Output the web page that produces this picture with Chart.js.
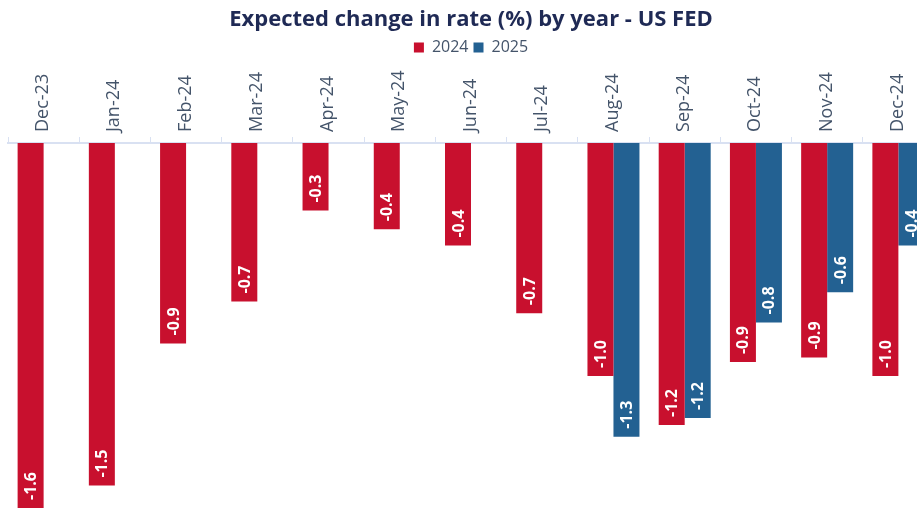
<!DOCTYPE html>
<html>
<head>
<meta charset="utf-8">
<script src="https://cdn.jsdelivr.net/npm/chart.js@4/dist/chart.umd.min.js"></script>
<style>
  html, body { margin:0; padding:0; width:917px; height:508px; overflow:hidden; background:#ffffff; }
  #wrap { position:absolute; left:0; top:0; width:940px; height:508px; }
</style>
</head>
<body>
<div id="wrap"><canvas id="c" width="940" height="508"></canvas></div>
<script>
const categories = ['Dec-23','Jan-24','Feb-24','Mar-24','Apr-24','May-24','Jun-24','Jul-24','Aug-24','Sep-24','Oct-24','Nov-24','Dec-24'];
const series2024 = [-1.58, -1.47, -0.86, -0.68, -0.29, -0.37, -0.44, -0.73, -1.00, -1.21, -0.94, -0.92, -1.00];
const series2025 = [null, null, null, null, null, null, null, null, -1.26, -1.18, -0.77, -0.64, -0.44];
const seriesNames = ['2024', '2025'];
const titleText = 'Expected change in rate (%) by year - US FED';

const RED = '#C8102E';
const BLUE = '#236192';
const FONT = "'Open Sans', 'DejaVu Sans', sans-serif";

const barLabels = {
  id: 'barLabels',
  afterDatasetsDraw(chart) {
    const ctx = chart.ctx;
    const area = chart.chartArea;
    ctx.save();
    ctx.font = 'bold 16px ' + FONT;
    ctx.fillStyle = '#ffffff';
    ctx.textAlign = 'left';
    ctx.textBaseline = 'middle';
    chart.data.datasets.forEach((ds, di) => {
      const meta = chart.getDatasetMeta(di);
      meta.data.forEach((el, i) => {
        const v = ds.data[i];
        if (v === null || v === undefined) return;
        const yEnd = Math.min(el.y, area.bottom);
        ctx.save();
        ctx.translate(el.x, yEnd - 8);
        ctx.rotate(-Math.PI / 2);
        ctx.fillText(v.toFixed(1), 0, 1);
        ctx.restore();
      });
    });
    ctx.restore();
  }
};

new Chart(document.getElementById('c'), {
  type: 'bar',
  data: {
    labels: categories,
    datasets: [
      { label: seriesNames[0], data: series2024, backgroundColor: RED, borderWidth: 0 },
      { label: seriesNames[1], data: series2025, backgroundColor: BLUE, borderWidth: 0 }
    ]
  },
  options: {
    responsive: false,
    animation: false,
    layout: { padding: { left: 8, right: 6, top: 0, bottom: 0 } },
    datasets: { bar: { categoryPercentage: 0.73, barPercentage: 1.0 } },
    plugins: {
      title: {
        display: true,
        text: titleText,
        color: '#1F2A55',
        font: { family: FONT, size: 22, weight: 'bold' },
        padding: { top: 7, bottom: 1 }
      },
      legend: {
        display: true,
        position: 'top',
        labels: {
          boxWidth: 10, boxHeight: 10,
          color: '#44546A',
          font: { family: FONT, size: 16 },
          padding: 5
        }
      },
      tooltip: { enabled: false }
    },
    scales: {
      x: {
        position: 'top',
        offset: true,
        grid: { display: true, drawOnChartArea: false, color: '#D9E1F2', tickLength: 6, offset: true },
        border: { display: true, color: '#D9E1F2', width: 2 },
        ticks: { color: '#44546A', font: { family: FONT, size: 18 }, minRotation: 90, maxRotation: 90, padding: 5, autoSkip: false, labelOffset: 21 }
      },
      y: {
        display: false,
        min: -1.566,
        max: 0
      }
    }
  },
  plugins: [barLabels]
});
</script>
</body>
</html>
